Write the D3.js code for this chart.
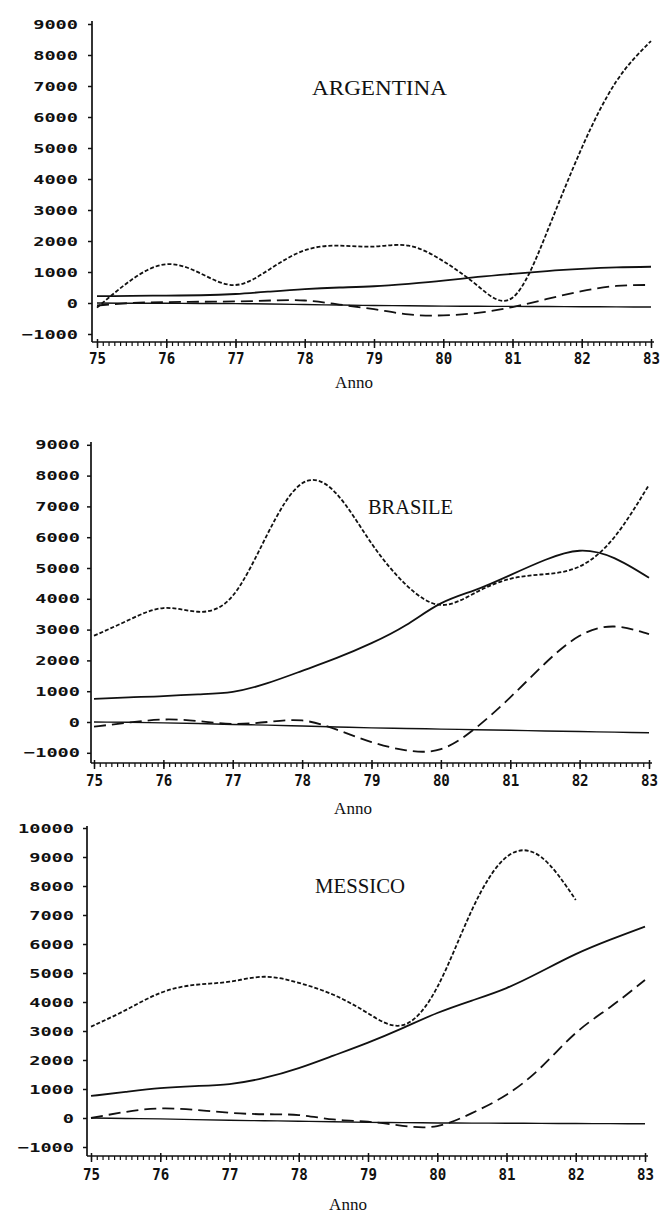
<!DOCTYPE html>
<html>
<head>
<meta charset="utf-8">
<script src="https://cdn.jsdelivr.net/npm/d3@7"></script>
<style>
  body { margin: 0; background: #fff; }
</style>
</head>
<body>
<div id="chart"></div>
<script>
// half-year grid, 1975 .. 1983
var years = [75, 75.5, 76, 76.5, 77, 77.5, 78, 78.5, 79, 79.5, 80, 80.5, 81, 81.5, 82, 82.5, 83];
var yearTicks = [75, 76, 77, 78, 79, 80, 81, 82, 83];
var countries = ["ARGENTINA", "BRASILE", "MESSICO"];
var xLabel = "Anno";

var ticksArg = [-1000, 0, 1000, 2000, 3000, 4000, 5000, 6000, 7000, 8000, 9000];
var ticksBra = [-1000, 0, 1000, 2000, 3000, 4000, 5000, 6000, 7000, 8000, 9000];
var ticksMex = [-1000, 0, 1000, 2000, 3000, 4000, 5000, 6000, 7000, 8000, 9000, 10000];

// Argentina
var argShort = [-150, 750, 1250, 950, 580, 1100, 1700, 1850, 1820, 1850, 1350, 550, 170, 2300, 5000, 7150, 8450];
var argSolid = [220, 230, 240, 250, 290, 370, 450, 500, 540, 620, 720, 840, 940, 1030, 1100, 1150, 1170];
var argLong  = [-80, 0, 30, 40, 50, 80, 80, -50, -200, -370, -400, -320, -130, 130, 380, 550, 580];
var argBase  = [0, -10, -10, -15, -20, -30, -50, -65, -80, -90, -100, -105, -110, -115, -120, -125, -130];

// Brasile
var braShort = [2800, 3310, 3700, 3580, 4100, 6100, 7750, 7400, 5800, 4450, 3800, 4200, 4650, 4800, 5050, 6000, 7700];
var braSolid = [750, 800, 840, 900, 980, 1260, 1660, 2080, 2560, 3150, 3850, 4290, 4770, 5260, 5560, 5320, 4680];
var braLong  = [-150, -20, 80, 30, -60, 0, 50, -250, -650, -920, -880, -200, 800, 1900, 2800, 3100, 2850];
var braBase  = [0, -10, -30, -50, -80, -100, -130, -160, -190, -210, -230, -250, -270, -290, -310, -330, -350];

// Messico (short-dashed series stops at 82)
var mexShort = [3150, 3720, 4310, 4590, 4700, 4870, 4660, 4250, 3610, 3200, 4510, 7170, 9000, 9000, 7520, null, null];
var mexSolid = [760, 900, 1030, 1100, 1170, 1380, 1720, 2150, 2600, 3100, 3620, 4050, 4480, 5050, 5650, 6150, 6600];
var mexLong  = [0, 210, 330, 280, 180, 130, 100, -50, -130, -270, -280, 170, 800, 1750, 2930, 3830, 4760];
var mexBase  = [0, -15, -30, -55, -80, -95, -110, -130, -150, -160, -170, -175, -180, -185, -190, -195, -200];

// panel layout (pixels)
var panels = [
  { title: countries[0], ticks: ticksArg, series: [argShort, argSolid, argLong, argBase],
    xr: [97, 651], yr: [334, 24], axisX: 92, axisY: 342, top: 21,
    titleX: 312, titleY: 95, titleW: 135, labelX: 78, tickY: 364, annoX: 354, annoY: 388 },
  { title: countries[1], ticks: ticksBra, series: [braShort, braSolid, braLong, braBase],
    xr: [94, 649], yr: [752.8, 444.8], axisX: 91, axisY: 763, top: 442,
    titleX: 368, titleY: 514, titleW: 85, labelX: 80, tickY: 786, annoX: 353, annoY: 814 },
  { title: countries[2], ticks: ticksMex, series: [mexShort, mexSolid, mexLong, mexBase],
    xr: [91, 645], yr: [1147, 828], axisX: 87, axisY: 1156, top: 826,
    titleX: 315, titleY: 893, titleW: 90, labelX: 74, tickY: 1180, annoX: 348, annoY: 1210 }
];

var styles = [
  { dash: "4,2", width: 1.8 },
  { dash: null, width: 1.8 },
  { dash: "12,6", width: 1.8 },
  { dash: null, width: 1.4 }
];

var ink = "#111";

var svg = d3.select("#chart").append("svg")
  .attr("width", 663)
  .attr("height", 1213)
  .style("background", "#fff");

panels.forEach(function (p) {
  var x = d3.scaleLinear().domain([75, 83]).range(p.xr);
  var y = d3.scaleLinear().domain([-1000, p.ticks[p.ticks.length - 1]]).range(p.yr);
  var g = svg.append("g");

  // y axis
  var yAxis = g.append("g")
    .attr("transform", "translate(" + p.axisX + ",0)")
    .call(d3.axisLeft(y).tickValues(p.ticks).tickSize(4).tickSizeOuter(0)
      .tickPadding(p.axisX - p.labelX - 4).tickFormat(d3.format("d")));
  yAxis.select(".domain").remove();
  yAxis.selectAll("line").attr("stroke", ink).attr("stroke-width", 1.5);
  yAxis.selectAll("text")
    .attr("fill", ink)
    .style("font-family", "'DejaVu Sans Mono', monospace")
    .style("font-weight", "bold")
    .style("font-size", "13px")
    .attr("textLength", function (d) { return String(d).length * 11.2; })
    .attr("lengthAdjust", "spacingAndGlyphs");
  g.append("line")
    .attr("x1", p.axisX).attr("x2", p.axisX)
    .attr("y1", p.top).attr("y2", p.axisY)
    .attr("stroke", ink).attr("stroke-width", 1.7);

  // x axis: monthly minor ticks hanging down, yearly labelled ticks
  var months = d3.range(0, 97).map(function (i) { return 75 + i / 12; });
  var minor = g.append("g")
    .attr("transform", "translate(0," + p.axisY + ")")
    .call(d3.axisBottom(x).tickValues(months).tickSize(4).tickSizeOuter(0).tickFormat(""));
  minor.select(".domain").remove();
  minor.selectAll("line").attr("stroke", ink).attr("stroke-width", 1.2);

  var major = g.append("g")
    .attr("transform", "translate(0," + p.axisY + ")")
    .call(d3.axisBottom(x).tickValues(yearTicks).tickSize(6).tickSizeOuter(0)
      .tickPadding(p.tickY - p.axisY - 17));
  major.select(".domain").remove();
  major.selectAll("line").attr("stroke", ink).attr("stroke-width", 1.5).attr("y1", -3);
  major.selectAll("text")
    .attr("fill", ink)
    .style("font-family", "'DejaVu Sans Mono', monospace")
    .style("font-weight", "bold")
    .style("font-size", "15px")
    .attr("textLength", 17)
    .attr("lengthAdjust", "spacingAndGlyphs");
  g.append("line")
    .attr("x1", p.axisX).attr("x2", p.xr[1] + 3)
    .attr("y1", p.axisY).attr("y2", p.axisY)
    .attr("stroke", ink).attr("stroke-width", 1.7);

  // series
  var line = d3.line()
    .defined(function (d) { return d[1] != null; })
    .x(function (d) { return x(d[0]); })
    .y(function (d) { return y(d[1]); })
    .curve(d3.curveNatural);

  p.series.forEach(function (vals, i) {
    var pts = years.map(function (yr, j) { return [yr, vals[j]]; });
    g.append("path")
      .datum(pts)
      .attr("d", line)
      .attr("fill", "none")
      .attr("stroke", ink)
      .attr("stroke-width", styles[i].width)
      .attr("stroke-dasharray", styles[i].dash)
      .attr("stroke-linejoin", "round");
  });

  // country title
  g.append("text")
    .attr("x", p.titleX)
    .attr("y", p.titleY)
    .attr("textLength", p.titleW)
    .attr("lengthAdjust", "spacingAndGlyphs")
    .style("font-family", "'Liberation Serif', 'Times New Roman', serif")
    .style("font-size", "21px")
    .attr("fill", ink)
    .text(p.title);

  // x axis title
  g.append("text")
    .attr("x", p.annoX)
    .attr("y", p.annoY)
    .attr("text-anchor", "middle")
    .style("font-family", "'Liberation Serif', 'Times New Roman', serif")
    .style("font-size", "17px")
    .attr("fill", ink)
    .text(xLabel);
});
</script>
</body>
</html>
